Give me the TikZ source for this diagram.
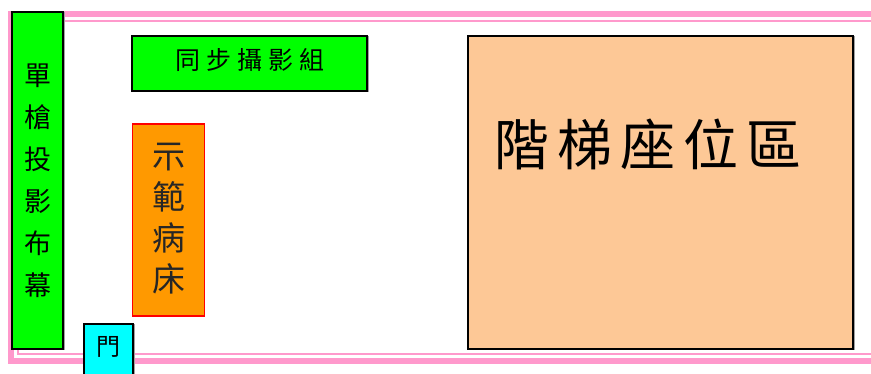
\documentclass[tikz,border=0pt]{standalone}
\usepackage{fontspec}
\newfontfamily\cjk{Noto Sans CJK TC}
\definecolor{pinkline}{HTML}{FF99CC}
\definecolor{greenbox}{HTML}{00FF00}
\definecolor{orangebox}{HTML}{FF9900}
\definecolor{peachbox}{HTML}{FDC896}
\definecolor{cyanbox}{HTML}{00FFFF}
\definecolor{shadowgray}{HTML}{A0A0A0}
\tikzset{
  box/.style={draw=black, line width=1.3pt},
  shade/.style={draw=shadowgray, line width=1pt},
  lbl/.style={font=\cjk, text=black, inner sep=0pt, align=center}
}
\begin{document}
\begin{tikzpicture}[x=1pt,y=-1pt]
\useasboundingbox (0,0) rectangle (871,374);
\clip (0,0) rectangle (871,374);
\fill[white] (0,0) rectangle (871,374);
% pink frame
\draw[pinkline, line width=6pt] (890,14) -- (11,14) -- (11,361.5) -- (890,361.5);
\draw[pinkline, line width=2.5pt] (890,21) -- (18,21) -- (18,354) -- (890,354);
% screen
\draw[shade] (13,13) rectangle (64,350);
\draw[box, fill=greenbox] (12,12) rectangle (63,349);
\node[lbl, font=\cjk\fontsize{27}{42}\selectfont] (screen) at (37.5,181) {單\\槍\\投\\影\\布\\幕};
% camera group
\draw[shade] (133,37) rectangle (368,92);
\draw[box, fill=greenbox] (132,36) rectangle (367,91);
\node[lbl, font=\cjk\fontsize{25}{28}\selectfont] (cam) at (249.5,59.5) {同\hspace{6pt}步\hspace{6pt}攝\hspace{6pt}影\hspace{6pt}組};
% demo bed
\draw[draw=red, line width=1.3pt, fill=orangebox] (132.5,124) rectangle (204.5,316);
\node[lbl, font=\cjk\fontsize{33}{41}\selectfont, text=black!85] (bed) at (168.5,219) {示\\範\\病\\床};
% seating
\draw[shade] (469,37) rectangle (854,350);
\draw[box, fill=peachbox] (468,36) rectangle (853,349);
\node[lbl, font=\cjk\fontsize{55}{60}\selectfont] (seat) at (648,144) {階\hspace{8pt}梯\hspace{8pt}座\hspace{8pt}位\hspace{8pt}區};
% door
\draw[shade] (85,325) rectangle (134,380);
\draw[box, fill=cyanbox] (84,324) rectangle (133,380);
\node[lbl, font=\cjk\fontsize{24}{26}\selectfont] (door) at (108.5,347) {門};
\end{tikzpicture}
\end{document}
